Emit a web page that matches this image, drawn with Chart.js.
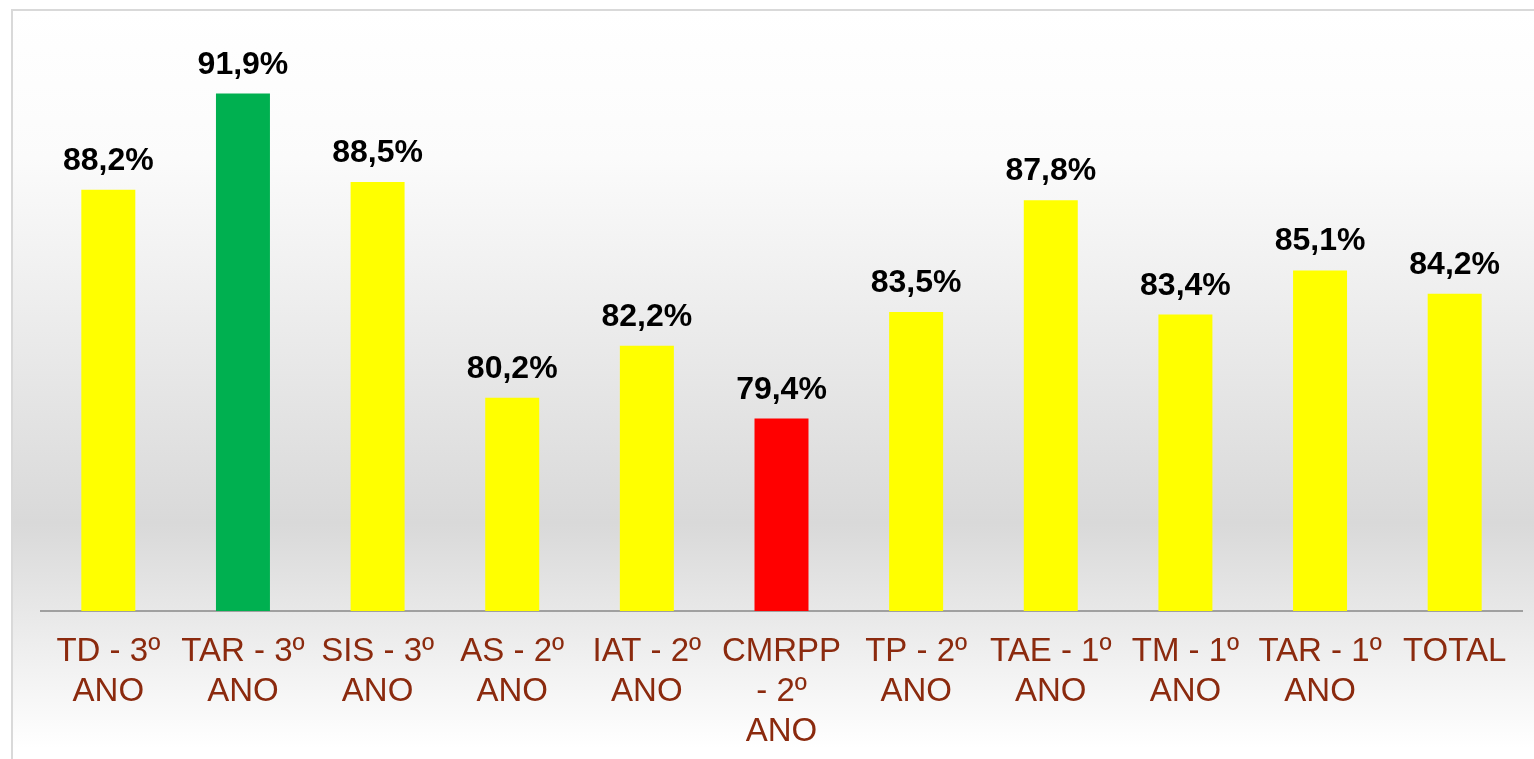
<!DOCTYPE html>
<html>
<head>
<meta charset="utf-8">
<script src="https://cdn.jsdelivr.net/npm/chart.js@4.4.0/dist/chart.umd.min.js"></script>
<style>
  html, body { margin: 0; padding: 0; background: #ffffff; }
  #wrap { width: 1534px; height: 759px; }
</style>
</head>
<body>
<div id="wrap"><canvas id="c" width="1534" height="759"></canvas></div>
<script>
const categories = [
  ["TD - 3º", "ANO"],
  ["TAR - 3º", "ANO"],
  ["SIS - 3º", "ANO"],
  ["AS - 2º", "ANO"],
  ["IAT - 2º", "ANO"],
  ["CMRPP", "- 2º", "ANO"],
  ["TP - 2º", "ANO"],
  ["TAE - 1º", "ANO"],
  ["TM - 1º", "ANO"],
  ["TAR - 1º", "ANO"],
  ["TOTAL"]
];
const values = [88.2, 91.9, 88.5, 80.2, 82.2, 79.4, 83.5, 87.8, 83.4, 85.1, 84.2];
const barColors = ["#FFFF00", "#00B050", "#FFFF00", "#FFFF00", "#FFFF00", "#FF0000",
                   "#FFFF00", "#FFFF00", "#FFFF00", "#FFFF00", "#FFFF00"];
const valueLabels = ["88,2%", "91,9%", "88,5%", "80,2%", "82,2%", "79,4%",
                     "83,5%", "87,8%", "83,4%", "85,1%", "84,2%"];

const backgroundPlugin = {
  id: 'bgFrame',
  beforeDraw(chart) {
    const ctx = chart.ctx;
    const W = chart.width, H = chart.height;
    ctx.save();
    ctx.fillStyle = '#ffffff';
    ctx.fillRect(0, 0, W, H);
    const g = ctx.createLinearGradient(0, 10, 0, 748);
    g.addColorStop(0, '#ffffff');
    g.addColorStop(0.2, '#fbfbfb');
    g.addColorStop(0.695, '#d9d9d9');
    g.addColorStop(1, '#ffffff');
    ctx.fillStyle = g;
    ctx.fillRect(12, 10, W - 12, H - 10);
    ctx.strokeStyle = '#d9d9d9';
    ctx.lineWidth = 2;
    ctx.beginPath();
    ctx.moveTo(12, H + 5);
    ctx.lineTo(12, 10);
    ctx.lineTo(W + 5, 10);
    ctx.stroke();
    ctx.restore();
  }
};

const valueLabelPlugin = {
  id: 'valueLabels',
  afterDatasetsDraw(chart) {
    const ctx = chart.ctx;
    const meta = chart.getDatasetMeta(0);
    ctx.save();
    ctx.font = 'bold 32px "Liberation Sans", Arial, sans-serif';
    ctx.fillStyle = '#000000';
    ctx.textAlign = 'center';
    ctx.textBaseline = 'alphabetic';
    meta.data.forEach((bar, i) => {
      ctx.fillText(valueLabels[i], bar.x, bar.y - 20);
    });
    ctx.restore();
  }
};

new Chart(document.getElementById('c'), {
  type: 'bar',
  data: {
    labels: categories,
    datasets: [{
      data: values,
      backgroundColor: barColors,
      borderWidth: 0,
      barPercentage: 0.401,
      categoryPercentage: 1.0
    }]
  },
  options: {
    responsive: false,
    animation: false,
    devicePixelRatio: 1,
    layout: { padding: { top: 39, left: 41, right: 12, bottom: 0 } },
    plugins: {
      legend: { display: false },
      tooltip: { enabled: false }
    },
    scales: {
      y: {
        display: false,
        min: 72,
        max: 94
      },
      x: {
        grid: { display: false, drawTicks: false },
        border: { display: true, color: '#a0a0a0', width: 2 },
        ticks: {
          autoSkip: false,
          maxRotation: 0,
          minRotation: 0,
          padding: 21,
          color: '#8B2A0E',
          font: { family: '"Liberation Sans", Arial, sans-serif', size: 33, lineHeight: '40px' }
        },
        afterFit(scale) { scale.height = 148; }
      }
    }
  },
  plugins: [backgroundPlugin, valueLabelPlugin]
});
</script>
</body>
</html>
